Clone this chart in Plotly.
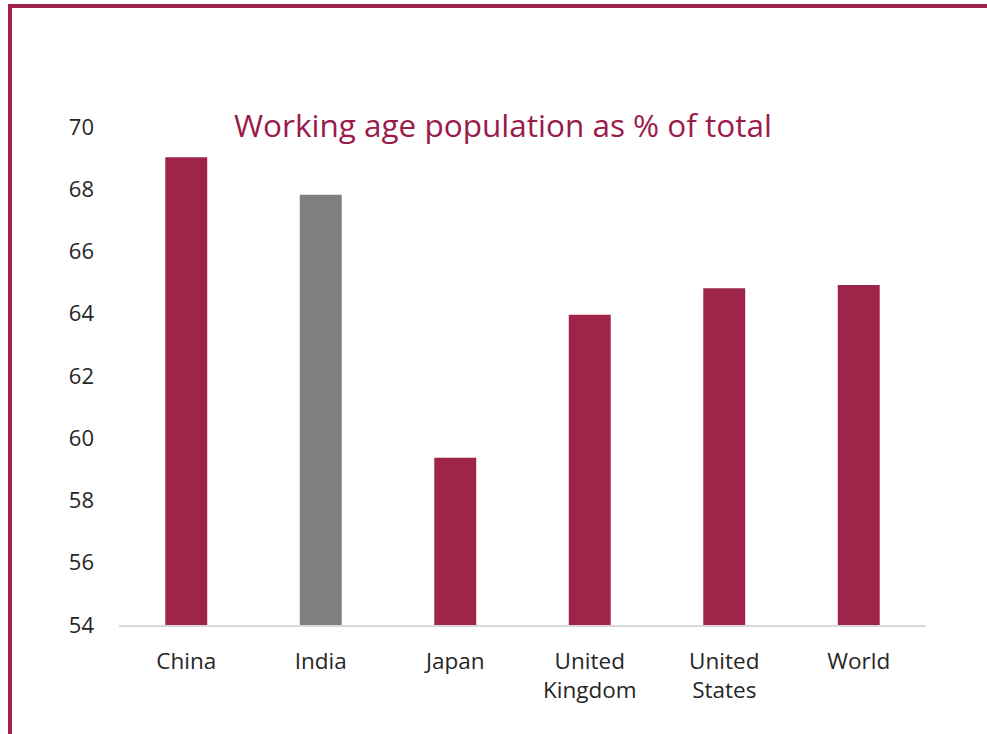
import plotly.graph_objects as go

# Working-age share of total population by country
countries = ["China", "India", "Japan", "United<br>Kingdom", "United<br>States", "World"]
working_age_pct = [69.03, 67.82, 59.37, 63.97, 64.82, 64.92]
bar_colors = ["#9E2449", "#7F7F7F", "#9E2449", "#9E2449", "#9E2449", "#9E2449"]
y_ticks = [54, 56, 58, 60, 62, 64, 66, 68, 70]

W, H = 987, 734
M_L, M_R, M_T, M_B = 119, 61, 127, 109
PW, PH = W - M_L - M_R, H - M_T - M_B


def px_x(x):
    return (x - M_L) / PW


def px_y(y):
    return (H - M_B - y) / PH


fig = go.Figure(
    go.Bar(
        x=countries,
        y=working_age_pct,
        marker=dict(color=bar_colors, line=dict(width=0)),
        hoverinfo="skip",
    )
)

border = "#9E2449"
fig.add_shape(type="line", xref="paper", yref="paper",
              x0=px_x(8), x1=px_x(990), y0=px_y(6), y1=px_y(6),
              line=dict(color=border, width=4))
fig.add_shape(type="line", xref="paper", yref="paper",
              x0=px_x(10), x1=px_x(10), y0=px_y(4), y1=px_y(740),
              line=dict(color=border, width=4))

fig.add_annotation(
    text="Working age population as % of total",
    xref="paper", yref="paper", x=px_x(503), y=px_y(125),
    xanchor="center", yanchor="middle", showarrow=False,
    font=dict(family="Open Sans", size=31.5, color="#9B1B4A"),
)

fig.update_layout(
    width=W, height=H,
    margin=dict(l=M_L, r=M_R, t=M_T, b=M_B, pad=0),
    paper_bgcolor="white", plot_bgcolor="white",
    bargap=0.688,
    showlegend=False,
    font=dict(family="Open Sans", color="#262626"),
)
fig.update_xaxes(
    showline=True, linecolor="#D9D9D9", linewidth=2,
    showgrid=False, ticks="", ticklabelstandoff=15,
    tickfont=dict(size=22.5, color="#262626"),
)
fig.update_yaxes(
    range=[54, 70], tickvals=y_ticks, showgrid=False, zeroline=False,
    showline=False, ticks="", ticklabelstandoff=24,
    tickfont=dict(size=22, color="#262626"),
)

fig.write_html("out.html")
